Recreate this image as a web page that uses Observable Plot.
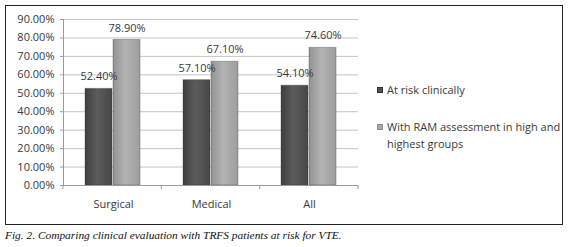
<!DOCTYPE html>
<html><head><meta charset="utf-8">
<script src="https://cdn.jsdelivr.net/npm/d3@7"></script>
<script src="https://cdn.jsdelivr.net/npm/@observablehq/plot@0.6"></script>
<style>
body{margin:0;background:#fff;}
#wrap{position:relative;width:570px;height:247px;overflow:hidden;font-family:"Open Sans",sans-serif;background:#fff;}
#frame{position:absolute;left:5px;top:5px;width:556px;height:218px;border:1px solid #222;}
#chart{position:absolute;left:0;top:0;}
#legend{position:absolute;left:377px;top:81px;font-size:11px;color:#3a3a3a;line-height:17px;}
#legend .item{position:relative;padding-left:10px;width:180px;margin-bottom:20px;}
#legend .sw{position:absolute;left:0;top:6px;width:6px;height:6px;}
#caption{position:absolute;left:5px;top:229px;font:italic 11.4px "Liberation Serif",serif;color:#111;white-space:nowrap;}
</style>
</head><body>
<div id="wrap">
  <div id="frame"></div>
  <div id="chart"></div>
  <div id="legend"></div>
  <div id="caption">Fig. 2. Comparing clinical evaluation with TRFS patients at risk for VTE.</div>
</div>
<script>
const categories = ["Surgical", "Medical", "All"];
const series = ["At risk clinically", "With RAM assessment in high and highest groups"];
const atRisk = [0.524, 0.571, 0.541];
const withRam = [0.789, 0.671, 0.746];
const yTicks = [0, 0.1, 0.2, 0.3, 0.4, 0.5, 0.6, 0.7, 0.8, 0.9];
const seriesColors = ["#505050", "#a9a9a9"];

const data = categories.flatMap((c, i) => [
  {cat: c, series: series[0], value: atRisk[i]},
  {cat: c, series: series[1], value: withRam[i]}
]);
const pct = d => (d * 100).toFixed(2) + "%";

const plot = Plot.plot({
  width: 570, height: 228,
  marginLeft: 63, marginRight: 212, marginTop: 19, marginBottom: 43,
  style: {fontFamily: "Open Sans", fontSize: "11px", color: "#383838", background: "transparent", overflow: "visible"},
  fx: {domain: categories, padding: 0, label: null, tickSize: 0, tickPadding: 15, axis: "bottom"},
  x: {domain: series, axis: null, paddingInner: 0.035, paddingOuter: 0.742},
  y: {domain: [0, 0.9], ticks: yTicks, tickFormat: pct, label: null, tickSize: 4, tickPadding: 6},
  color: {domain: series, range: ["url(#gDark)", "url(#gLight)"]},
  marks: [
    Plot.ruleY(yTicks.slice(1), {stroke: "#c4c4c4", strokeWidth: 1}),
    Plot.barY(data, {fx: "cat", x: "series", y: "value", fill: "series", stroke: "#3a3a3a", strokeOpacity: 0.35}),
    Plot.ruleY([0], {stroke: "#9a9a9a"}),
    Plot.text(data, {fx: "cat", x: "series", y: "value", text: d => pct(d.value), dy: -12, fill: "#3a3a3a", fontSize: 11})
  ]
});

// gradients + axis line + category boundary ticks
const svg = d3.select(plot.tagName.toLowerCase() === "svg" ? plot : plot.querySelector("svg"));
const defs = svg.insert("defs", ":first-child");
function grad(id, stops) {
  const g = defs.append("linearGradient").attr("id", id).attr("x1", "0").attr("x2", "1").attr("y1", "0").attr("y2", "0");
  stops.forEach(([o, c]) => g.append("stop").attr("offset", o).attr("stop-color", c));
}
grad("gDark", [[0, "#3e3e3e"], [0.45, "#5c5c5c"], [1, "#474747"]]);
grad("gLight", [[0, "#939393"], [0.45, "#b3b3b3"], [1, "#9e9e9e"]]);

const fxs = plot.scale("fx");
const ys = plot.scale("y");
const band = d3.scaleBand().domain(fxs.domain).range(fxs.range).padding(0);
const y0 = ys.range[0], y1 = ys.range[1];
const axisG = svg.append("g").attr("stroke", "#9a9a9a");
axisG.append("line").attr("x1", band.range()[0] + 0.5).attr("x2", band.range()[0] + 0.5).attr("y1", y1).attr("y2", y0);
const bounds = fxs.domain.map(d => band(d)).concat([band.range()[1]]);
bounds.forEach(b => axisG.append("line").attr("x1", b).attr("x2", b).attr("y1", y0).attr("y2", y0 + 4));
svg.selectAll("[aria-label='y-axis'] line, [aria-label='y-axis tick'] path").attr("stroke", "#9a9a9a");

document.getElementById("chart").appendChild(plot);

// legend
const legend = d3.select("#legend");
series.forEach((s, i) => {
  const it = legend.append("div").attr("class", "item");
  it.append("span").attr("class", "sw").style("background", seriesColors[i]).style("border", "1px solid " + (i ? "#8a8a8a" : "#333")).style("box-sizing", "border-box");
  it.append("span").text(s);
});
</script>
</body></html>
